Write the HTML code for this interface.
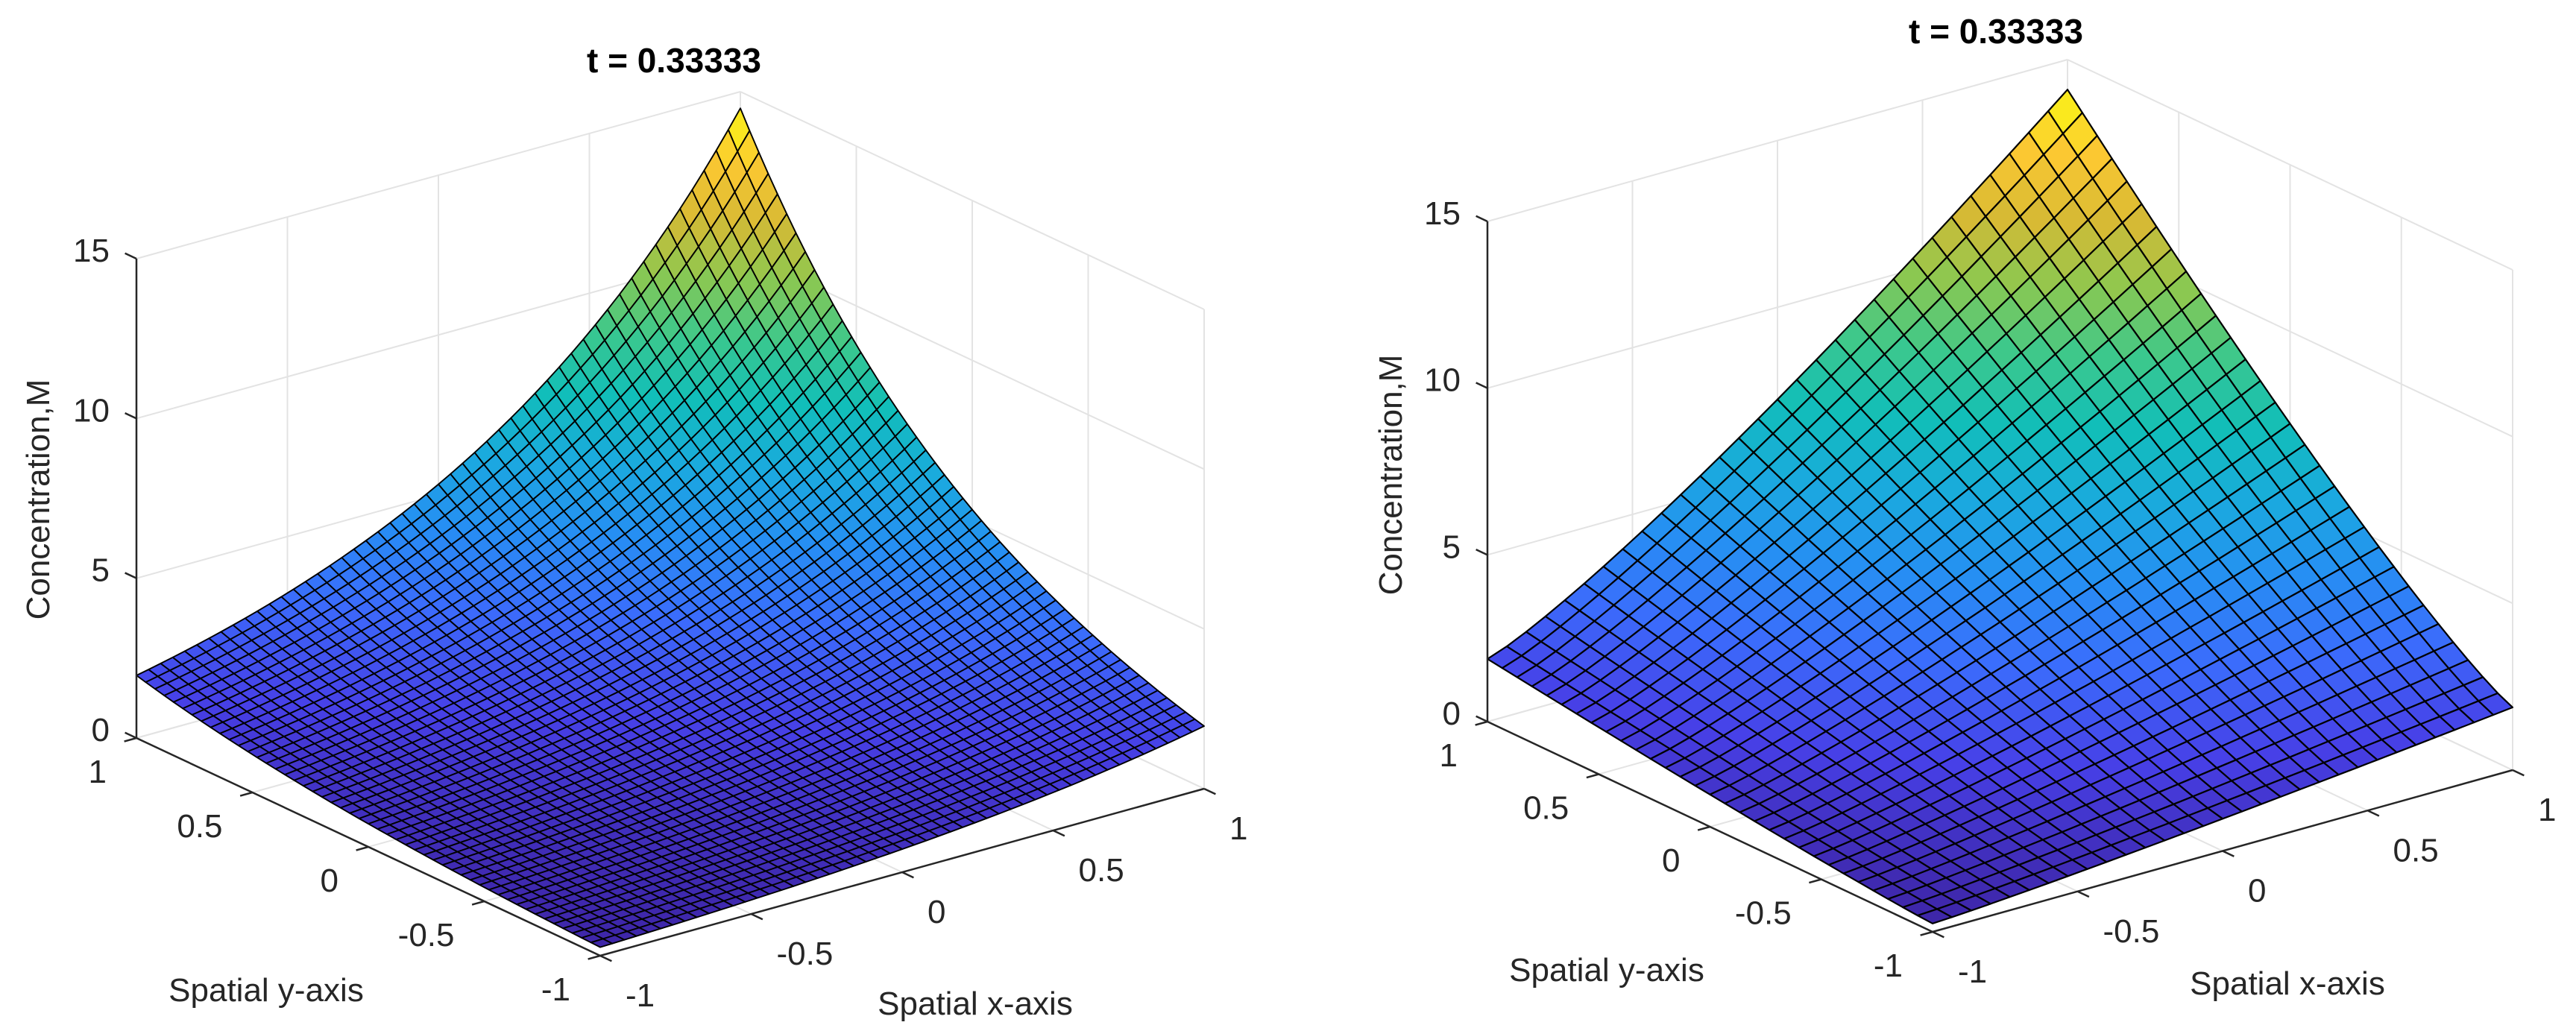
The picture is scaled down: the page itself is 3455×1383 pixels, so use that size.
<!DOCTYPE html>
<html>
<head>
<meta charset="utf-8">
<style>
  html,body{margin:0;padding:0;background:#fff;}
  svg{display:block;}
  text{font-family:"Liberation Sans",Arial,sans-serif;fill:#262626;}
</style>
</head>
<body>
<svg id="chart" width="3455" height="1383" viewBox="0 0 3455 1383" xmlns="http://www.w3.org/2000/svg">
  <rect x="0" y="0" width="3455" height="1383" fill="#ffffff"/>
  <g id="plotL"></g>
  <g id="plotR"></g>
  <text x="904" y="97" font-size="46" font-weight="bold" text-anchor="middle" style="fill:#000">t = 0.33333</text>
  <text x="2677" y="58" font-size="46" font-weight="bold" text-anchor="middle" style="fill:#000">t = 0.33333</text>
  <text x="357" y="1343" font-size="44" text-anchor="middle">Spatial y-axis</text>
  <text x="1308" y="1361" font-size="44" text-anchor="middle">Spatial x-axis</text>
  <text transform="translate(66,670) rotate(-90)" font-size="44" text-anchor="middle">Concentration,M</text>
  <text x="2155" y="1316" font-size="44" text-anchor="middle">Spatial y-axis</text>
  <text x="3068" y="1334" font-size="44" text-anchor="middle">Spatial x-axis</text>
  <text transform="translate(1880,637) rotate(-90)" font-size="44" text-anchor="middle">Concentration,M</text>
</svg>
<script>
// ---- data ----
const xyTicks = [-1, -0.5, 0, 0.5, 1];
const xyTickLabels = ["-1", "-0.5", "0", "0.5", "1"];
const zTicks = [0, 5, 10, 15];
const zTickLabels = ["0", "5", "10", "15"];
const leftScale = 1.96;
const leftProfileX = [0.3679,0.3829,0.3985,0.4148,0.4317,0.4493,0.4677,0.4868,0.5066,0.5273,0.5488,0.5712,0.5945,0.6188,0.6440,0.6703,0.6977,0.7261,0.7558,0.7866,0.8187,0.8521,0.8869,0.9231,0.9608,1.0000,1.0408,1.0833,1.1275,1.1735,1.2214,1.2712,1.3231,1.3771,1.4333,1.4918,1.5527,1.6161,1.6820,1.7507,1.8221,1.8965,1.9739,2.0544,2.1383,2.2255,2.3164,2.4109,2.5093,2.6117,2.7183];
const leftProfileY = [0.3679,0.3829,0.3985,0.4148,0.4317,0.4493,0.4677,0.4868,0.5066,0.5273,0.5488,0.5712,0.5945,0.6188,0.6440,0.6703,0.6977,0.7261,0.7558,0.7866,0.8187,0.8521,0.8869,0.9231,0.9608,1.0000,1.0408,1.0833,1.1275,1.1735,1.2214,1.2712,1.3231,1.3771,1.4333,1.4918,1.5527,1.6161,1.6820,1.7507,1.8221,1.8965,1.9739,2.0544,2.1383,2.2255,2.3164,2.4109,2.5093,2.6117,2.7183];
const rightScale = 0.2507;
const rightProfileX = [1.000,1.114,1.259,1.420,1.591,1.771,1.957,2.150,2.349,2.551,2.759,2.970,3.185,3.403,3.625,3.849,4.076,4.307,4.539,4.775,5.012,5.252,5.494,5.738,5.984,6.233,6.483,6.734,6.988,7.243,7.500];
const rightProfileY = [1.000,1.114,1.259,1.420,1.591,1.771,1.957,2.150,2.349,2.551,2.759,2.970,3.185,3.403,3.625,3.849,4.076,4.307,4.539,4.775,5.012,5.252,5.494,5.738,5.984,6.233,6.483,6.734,6.988,7.243,7.500];

const NS = "http://www.w3.org/2000/svg";
const parulaStops = [
  [0.00,[62,38,168]],[0.10,[71,64,231]],[0.20,[59,108,252]],[0.30,[38,143,243]],
  [0.40,[26,170,222]],[0.50,[17,190,185]],[0.60,[60,200,140]],[0.70,[140,200,80]],
  [0.80,[215,186,52]],[0.90,[252,200,50]],[1.00,[249,251,20]]
];
function parula(t){
  t=Math.max(0,Math.min(1,t));
  for(let i=1;i<parulaStops.length;i++){
    if(t<=parulaStops[i][0]){
      const a=parulaStops[i-1],b=parulaStops[i];
      const f=(t-a[0])/(b[0]-a[0]);
      const c=a[1].map((v,k)=>Math.round(v+(b[1][k]-v)*f));
      return "rgb("+c.join(",")+")";
    }
  }
  return "rgb(249,251,20)";
}

function drawPlot(g, cfg, profX, profY, scale, prefix){
  const P=(x,y,z)=>[cfg.ox+(x+1)*cfg.xv[0]+(1-y)*cfg.yv[0], cfg.oy+(x+1)*cfg.xv[1]+(1-y)*cfg.yv[1]-z*cfg.zs];
  const line=(a,b,col,w,name)=>{
    const l=document.createElementNS(NS,"line");
    l.setAttribute("x1",a[0]);l.setAttribute("y1",a[1]);l.setAttribute("x2",b[0]);l.setAttribute("y2",b[1]);
    l.setAttribute("stroke",col);l.setAttribute("stroke-width",w);
    
    
    g.appendChild(l);
  };
  const grid="#e3e3e3";
  zTicks.forEach(z=>{
    line(P(-1,1,z),P(1,1,z),grid,2,prefix+"-grid-z");
    line(P(1,1,z),P(1,-1,z),grid,2,prefix+"-grid-z");
  });
  xyTicks.forEach(v=>{
    line(P(v,1,0),P(v,1,15),grid,2,prefix+"-grid-x-wall");
    line(P(1,v,0),P(1,v,15),grid,2,prefix+"-grid-y-wall");
    line(P(v,1,0),P(v,-1,0),grid,2,prefix+"-grid-x-floor");
    line(P(-1,v,0),P(1,v,0),grid,2,prefix+"-grid-y-floor");
  });
  const nx=profX.length, ny=profY.length;
  const Z=(i,j)=>scale*profX[i]*profY[j];
  const zmin=Z(0,0), zmax=Z(nx-1,ny-1);
  const faces=[];
  for(let i=0;i<nx-1;i++)for(let j=0;j<ny-1;j++)faces.push([i,j]);
  faces.sort((a,b)=>(b[0]+b[1])-(a[0]+a[1]));
  const sg=document.createElementNS(NS,"g");
  
  
  g.appendChild(sg);
  const X=i=>-1+2*i/(nx-1), Y=j=>-1+2*j/(ny-1);
  faces.forEach(([i,j])=>{
    const pts=[[i,j],[i+1,j],[i+1,j+1],[i,j+1]].map(([a,b])=>P(X(a),Y(b),Z(a,b)));
    const zm=(Z(i,j)+Z(i+1,j)+Z(i+1,j+1)+Z(i,j+1))/4;
    const p=document.createElementNS(NS,"polygon");
    p.setAttribute("points",pts.map(q=>q[0].toFixed(1)+","+q[1].toFixed(1)).join(" "));
    p.setAttribute("fill",parula((zm-zmin)/(zmax-zmin)));
    p.setAttribute("stroke","#000");
    p.setAttribute("stroke-width",cfg.sw);
    p.setAttribute("stroke-linejoin","round");
    
    
    sg.appendChild(p);
  });
  const ax="#262626";
  line(P(-1,1,0),P(-1,1,15),ax,2.5,prefix+"-z-axis-line");
  line(P(-1,1,0),P(-1,-1,0),ax,2.5,prefix+"-y-axis-line");
  line(P(-1,-1,0),P(1,-1,0),ax,2.5,prefix+"-x-axis-line");
  const norm=v=>{const l=Math.hypot(v[0],v[1]);return [v[0]/l,v[1]/l];};
  const yd=norm([-cfg.yv[0],-cfg.yv[1]]), xd=norm([-cfg.xv[0],-cfg.xv[1]]), ydn=norm(cfg.yv);
  const TL=17;
  const txt=(x,y,s,anchor,name)=>{
    const t=document.createElementNS(NS,"text");
    t.setAttribute("x",x);t.setAttribute("y",y);t.setAttribute("font-size","44");
    t.setAttribute("text-anchor",anchor);
    t.textContent=s;
    
    
    g.appendChild(t);
  };
  zTicks.forEach((z,k)=>{
    const a=P(-1,1,z);
    line(a,[a[0]+yd[0]*TL,a[1]+yd[1]*TL],ax,2.5,prefix+"-z-tick");
    txt(a[0]-36,a[1]+4,zTickLabels[k],"end",prefix+"-z-tick-label");
  });
  xyTicks.forEach((v,k)=>{
    const a=P(-1,v,0);
    line(a,[a[0]+xd[0]*TL,a[1]+xd[1]*TL],ax,2.5,prefix+"-y-tick");
    txt(a[0]-40,a[1]+60,xyTickLabels[k],"end",prefix+"-y-tick-label");
    const b=P(v,-1,0);
    line(b,[b[0]+ydn[0]*TL,b[1]+ydn[1]*TL],ax,2.5,prefix+"-x-tick");
    txt(b[0]+34,b[1]+68,xyTickLabels[k],"start",prefix+"-x-tick-label");
  });
}

drawPlot(document.getElementById("plotL"),
  {ox:183, oy:990, xv:[405,-112], yv:[311,146], zs:643/15, sw:1.9},
  leftProfileX, leftProfileY, leftScale, "left");
drawPlot(document.getElementById("plotR"),
  {ox:1995, oy:968, xv:[389,-108.5], yv:[298.5,141], zs:671/15, sw:2.2},
  rightProfileX, rightProfileY, rightScale, "right");
</script>
</body>
</html>
